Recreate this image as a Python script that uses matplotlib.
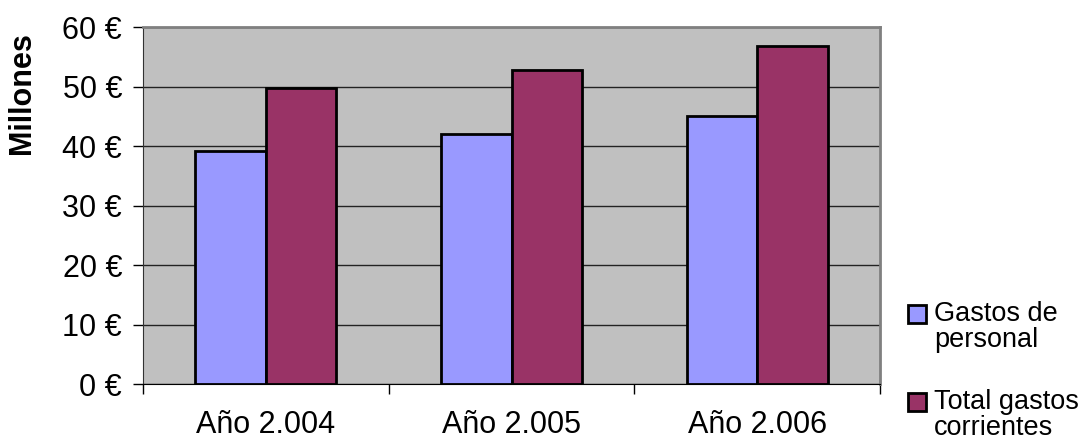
import numpy as np
import matplotlib
matplotlib.use("Agg")
from matplotlib import pyplot as plt
from matplotlib.patches import Rectangle
from matplotlib.ticker import FuncFormatter

plt.rcParams['font.family'] = ['Liberation Sans', 'DejaVu Sans']

categories = ["Año 2.004", "Año 2.005", "Año 2.006"]
gastos_personal = [39.1, 42.0, 45.1]
total_corrientes = [49.7, 52.7, 56.8]
series_names = ["Gastos de\npersonal", "Total gastos\ncorrientes"]
colors = ["#9999FF", "#993366"]

fig = plt.figure(figsize=(10.83, 4.43), dpi=100)
ax = fig.add_axes([0.132, 0.133, 0.6806, 0.806])
ax.set_facecolor("#C0C0C0")

x = np.arange(len(categories))
w = 0.287
ax.bar(x - w / 2, gastos_personal, w, color=colors[0], edgecolor="black", linewidth=2, zorder=3)
ax.bar(x + w / 2, total_corrientes, w, color=colors[1], edgecolor="black", linewidth=2, zorder=3)

ax.set_xlim(-0.5, len(categories) - 0.5)
ax.set_ylim(0, 60)
ax.set_yticks(range(0, 61, 10))
ax.yaxis.set_major_formatter(FuncFormatter(lambda v, p: "%d €" % v))
ax.grid(axis="y", color="#222222", linewidth=1, zorder=1)

# category labels centered, ticks on boundaries
ax.set_xticks(np.arange(len(categories) + 1) - 0.5)
ax.set_xticklabels([])
ax.set_xticks(x, minor=True)
ax.set_xticklabels(categories, minor=True, fontsize=22)
ax.tick_params(axis="x", which="minor", length=0, pad=19)
ax.tick_params(axis="x", which="major", length=7, width=1, color="black", direction="out")
ax.tick_params(axis="y", length=7, width=1, labelsize=22, direction="out", pad=8)

for s in ["top", "right"]:
    ax.spines[s].set_color("#808080")
    ax.spines[s].set_linewidth(2)
ax.spines["left"].set_color("#333333")
ax.spines["bottom"].set_color("black")

ax.set_ylabel("Millones", fontsize=22, fontweight="bold", va="center")
ax.yaxis.set_label_coords(-0.164, 0.815)

# legend drawn by hand: square aligned with first text line, like Excel
W, H = fig.get_size_inches() * fig.dpi
leg_tops = [304, 392]
for name, col, top in zip(series_names, colors, leg_tops):
    fig.patches.append(Rectangle((908 / W, 1 - (top + 19) / H), 18 / W, 18 / H,
                                 transform=fig.transFigure, facecolor=col,
                                 edgecolor="black", linewidth=2))
    fig.text(934 / W, 1 - (top - 3) / H, name, fontsize=19.5, va="top", ha="left",
             linespacing=1.0)

plt.savefig("out.png", dpi=100)
plt.close()
